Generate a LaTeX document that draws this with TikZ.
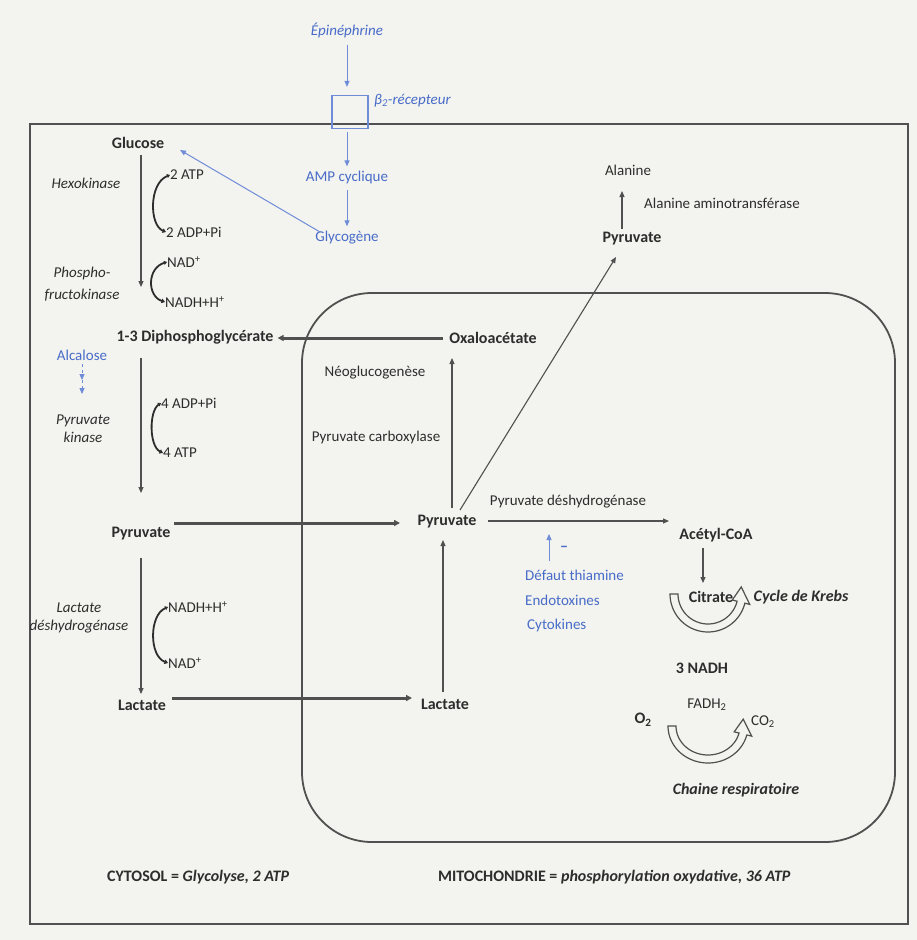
\documentclass[tikz,border=0pt]{standalone}
\usepackage{fontspec}
\setmainfont{Carlito}
\usetikzlibrary{arrows.meta,calc}
\definecolor{bg}{RGB}{243,243,239}
\definecolor{ink}{RGB}{45,45,45}
\definecolor{bl}{RGB}{72,108,200}
\definecolor{bline}{RGB}{110,140,215}
\definecolor{lin}{RGB}{80,80,80}
\tikzset{
  lab/.style={inner sep=0pt, text=ink, font=\fontsize{15}{18}\selectfont},
  bold/.style={inner sep=0pt, text=ink, font=\fontsize{16}{18}\selectfont\bfseries},
  bital/.style={inner sep=0pt, text=ink, font=\fontsize{16}{18}\selectfont\bfseries\itshape},
  ital/.style={inner sep=0pt, text=ink, font=\fontsize{15}{18}\selectfont\itshape},
  blab/.style={lab, text=bl},
  arr/.style={draw=lin, line width=1.1pt, -{Triangle[length=6pt,width=5pt]}},
  thickarr/.style={draw=lin, line width=3pt, -{Triangle[length=6pt,width=6pt]}},
  barr/.style={draw=bline, line width=1pt, -{Triangle[length=6pt,width=5pt]}},
  brk/.style={draw=ink, line width=1.8pt, {Triangle[length=3pt,width=4pt]}-{Triangle[length=3.5pt,width=4.5pt]}},
  hollow/.style={draw=lin, line width=1.2pt, fill=bg},
  frame/.style={draw=lin, line width=2.2pt}
}
\begin{document}
\begin{tikzpicture}[x=1pt,y=-1pt]
\useasboundingbox (0,0) rectangle (917,940);
\fill[bg] (0,0) rectangle (917,940);

% frames
\draw[frame] (30,124) rectangle (908,924);
\draw[frame, line width=1.8pt, rounded corners=70pt] (302,293) rectangle (895,842);

% top (blue) signalling
\node[ital, text=bl] (epi) at (347,30) {Épinéphrine};
\node[draw=bline, line width=1.2pt, minimum width=36pt, minimum height=33pt, inner sep=0pt] (rec) at (350,112) {};
\node[ital, text=bl, anchor=west] (recl) at (374,101) {β\textsubscript{2}-récepteur};
\node[blab] (amp) at (347,177) {AMP cyclique};
\node[blab] (glyco) at (347,238) {Glycogène};
\draw[barr, shorten <=7pt, shorten >=8pt] (epi.south) -- (epi.south |- rec.north);
\draw[barr, shorten <=3pt, shorten >=4pt] (amp.north |- rec.south) -- (amp.north);
\draw[barr, shorten <=6pt, shorten >=5pt] (amp.south) -- (glyco.north);

% left column
\node[bold] (gluc) at (138,143) {Glucose};
\coordinate (glucend) at (180,150);
\coordinate (glycostart) at (320,232);
\draw[barr] (glycostart) -- (glucend);
\node[ital] (hexo) at (86,183) {Hexokinase};
\node[ital, align=center, font=\fontsize{15}{22}\selectfont\itshape] (pfk) at (82,284) {Phospho-\\fructokinase};
\coordinate (g1) at (141,155);
\coordinate (g2) at (141,287);
\draw[arr] (g1) -- (g2);

\node[lab, anchor=west] (atp2) at (170,175) {2 ATP};
\node[lab, anchor=west] (adp2) at (166,232) {2 ADP+Pi};
\draw[brk] (atp2.west) .. controls (149,183) and (149,225) .. (adp2.west);
\node[lab, anchor=west] (nad1) at (167,262) {NAD\textsuperscript{+}};
\node[lab, anchor=west] (nadh1) at (165,302) {NADH+H\textsuperscript{+}};
\draw[brk] (nad1.west) .. controls (147,268) and (147,296) .. (nadh1.west);

\node[bold] (dpg) at (195,337) {1-3 Diphosphoglycérate};
\node[blab] (alc) at (82,355) {Alcalose};
\coordinate (al1) at (82,364);
\coordinate (al2) at (82,380);
\coordinate (al3) at (82,394);
\draw[barr, dashed] (al1) -- (al2);
\draw[barr, dashed] (al2) -- (al3);
\node[ital, align=center] (pk) at (83,429) {Pyruvate\\kinase};
\coordinate (d1) at (141,358);
\coordinate (d2) at (141,493);
\draw[arr] (d1) -- (d2);
\node[lab, anchor=west] (adp4) at (161,403) {4 ADP+Pi};
\node[lab, anchor=west] (atp4) at (163,453) {4 ATP};
\draw[brk] (adp4.west) .. controls (149,411) and (149,446) .. (atp4.west);

\node[bold] (pyrL) at (141,534) {Pyruvate};
\coordinate (p1) at (141,558);
\coordinate (p2) at (141,694);
\draw[arr] (p1) -- (p2);
\node[ital, align=center] (ldh) at (79,618) {Lactate\\déshydrogénase};
\node[lab, anchor=west] (nadh2) at (168,607) {NADH+H\textsuperscript{+}};
\node[lab, anchor=west] (nad2) at (168,663) {NAD\textsuperscript{+}};
\draw[brk] (nadh2.west) .. controls (149,615) and (149,656) .. (nad2.west);
\node[bold] (lacL) at (142,705) {Lactate};

% mitochondrion
\node[bold] (oxa) at (493,338) {Oxaloacétate};
\node[lab] (neo) at (375,373) {Néoglucogenèse};
\node[lab] (pc) at (376,437) {Pyruvate carboxylase};
\node[bold] (pyrM) at (447,522) {Pyruvate};
\node[bold] (lacM) at (445,704) {Lactate};
\node[bold] (pyrT) at (632,239) {Pyruvate};
\node[lab] (ala) at (628,170) {Alanine};
\node[lab] (alat) at (722,203) {Alanine aminotransférase};
\node[lab] (pdh) at (568,502) {Pyruvate déshydrogénase};
\node[bold] (acoa) at (716,535) {Acétyl-CoA};
\node[blab, anchor=west] (thia) at (525,575) {Défaut thiamine};
\node[blab, anchor=west] (endo) at (525,600) {Endotoxines};
\node[blab, anchor=west] (cyto) at (527,625) {Cytokines};
\node[bold, text=bl] (minus) at (564,549) {–};

% hollow curved arrows
\draw[hollow] plot[domain=180:14, samples=40, variable=\t] ({708+38*cos(\t)},{594+38*sin(\t)})
  -- ({708+43*cos(14)},{594+43*sin(14)})
  -- ({708+34*cos(-12)},{594+34*sin(-12)})
  -- ({708+25*cos(14)},{594+25*sin(14)})
  -- plot[domain=14:180, samples=40, variable=\t] ({708+30*cos(\t)},{594+30*sin(\t)})
  -- cycle;
\draw[hollow] plot[domain=180:14, samples=40, variable=\t] ({708+40*cos(\t)},{726+37*sin(\t)})
  -- ({708+45*cos(14)},{726+42*sin(14)})
  -- ({708+36*cos(-12)},{726+33*sin(-12)})
  -- ({708+27*cos(14)},{726+24*sin(14)})
  -- plot[domain=14:180, samples=40, variable=\t] ({708+32*cos(\t)},{726+29*sin(\t)})
  -- cycle;

\node[bold] (cit) at (711,597) {Citrate};
\node[bital] (krebs) at (801,597) {Cycle de Krebs};
\node[bold] (nadh3) at (702,668) {3 NADH};
\node[lab] (fadh) at (707,705) {FADH\textsubscript{2}};
\node[bold] (o2) at (643,720) {O\textsubscript{2}};
\node[lab] (co2) at (763,722) {CO\textsubscript{2}};
\node[bital] (chain) at (736,790) {Chaine respiratoire};

% thick transport arrows
\draw[thickarr, shorten <=6pt, shorten >=4pt] (oxa.west) -- (oxa.west -| dpg.east);
\coordinate (tp1) at (174,523);
\coordinate (tp2) at (400,523);
\draw[thickarr] (tp1) -- (tp2);
\coordinate (tl1) at (172,698);
\coordinate (tl2) at (412,698);
\draw[thickarr] (tl1) -- (tl2);

% thin arrows in mitochondrion
\coordinate (lp1) at (443,692);
\coordinate (lp2) at (443,540);
\draw[arr] (lp1) -- (lp2);
\coordinate (po1) at (452,508);
\coordinate (po2) at (452,358);
\draw[arr] (po1) -- (po2);
\coordinate (pt1) at (460,510);
\coordinate (pt2) at (616,257);
\draw[arr] (pt1) -- (pt2);
\coordinate (pa1) at (622,229);
\coordinate (pa2) at (622,191);
\draw[arr] (pa1) -- (pa2);
\coordinate (pd1) at (488,521);
\coordinate (pd2) at (669,521);
\draw[arr] (pd1) -- (pd2);
\coordinate (in1) at (549,561);
\coordinate (in2) at (549,534);
\draw[barr] (in1) -- (in2);
\coordinate (ac1) at (703,548);
\coordinate (ac2) at (703,583);
\draw[arr] (ac1) -- (ac2);

% bottom captions
\node[bold, anchor=west] (cytosol) at (107,877) {CYTOSOL = \textit{Glycolyse, 2 ATP}};
\node[bold, anchor=west] (mito) at (438,877) {MITOCHONDRIE = \textit{phosphorylation oxydative, 36 ATP}};
\end{tikzpicture}
\end{document}
